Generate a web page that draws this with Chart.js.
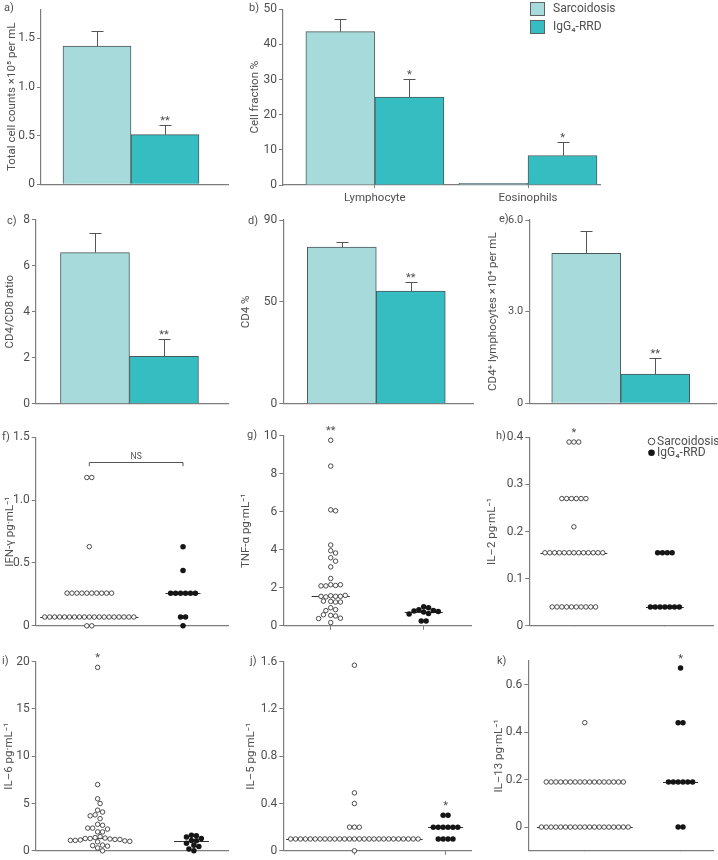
<!DOCTYPE html>
<html>
<head>
<meta charset="utf-8">
<title>BAL cells and cytokines</title>
<script src="https://cdn.jsdelivr.net/npm/chart.js@4.4.1/dist/chart.umd.min.js"></script>
<style>
  body { margin: 0; background: #fff; }
  #fig { position: relative; width: 718px; height: 860px; overflow: hidden; }
  #fig canvas { position: absolute; }
</style>
</head>
<body>
<div id="fig"></div>
<script>
// groups / categories
var groups = ['Sarcoidosis', 'IgG\u2084-RRD'];
var cellTypes = ['Lymphocyte', 'Eosinophils'];

// a) total cell counts (mean, SEM)
var totalSarc = [1.42];
var totalSarcSem = [0.16];
var totalIgg = [0.51];
var totalIggSem = [0.10];
var totalSig = ['**'];
var totalTicks = [0, 0.5, 1.0, 1.5];
var totalTickLabels = ['0', '0.5', '1.0', '1.5'];

// b) cell fraction %
var fracSarc = [43.6, 0.5];
var fracSarcSem = [3.7, 0];
var fracIgg = [25.0, 8.4];
var fracIggSem = [5.2, 3.9];
var fracSig = ['*', '*'];
var fracTicks = [0, 10, 20, 30, 40, 50];
var fracTickLabels = ['0', '10', '20', '30', '40', '50'];

// c) CD4/CD8 ratio
var ratioSarc = [6.57];
var ratioSarcSem = [0.84];
var ratioIgg = [2.06];
var ratioIggSem = [0.74];
var ratioSig = ['**'];
var ratioTicks = [0, 2, 4, 6, 8];
var ratioTickLabels = ['0', '2', '4', '6', '8'];

// d) CD4 %
var cd4Sarc = [76.7];
var cd4SarcSem = [2.7];
var cd4Igg = [55.2];
var cd4IggSem = [4.5];
var cd4Sig = ['**'];
var cd4Ticks = [0, 50, 90];
var cd4TickLabels = ['0', '50', '90'];

// e) CD4+ lymphocytes x10^4 per mL
var cd4CountSarc = [4.91];
var cd4CountSarcSem = [0.73];
var cd4CountIgg = [0.96];
var cd4CountIggSem = [0.53];
var cd4CountSig = ['**'];
var cd4CountTicks = [0, 3, 6];
var cd4CountTickLabels = ['0', '3.0', '6.0'];

// f) IFN-gamma
var ifnSarc = [1.18, 1.18, 0.63,
  0.26, 0.26, 0.26, 0.26, 0.26, 0.26, 0.26, 0.26, 0.26, 0.26,
  0.07, 0.07, 0.07, 0.07, 0.07, 0.07, 0.07, 0.07, 0.07, 0.07,
  0.07, 0.07, 0.07, 0.07, 0.07, 0.07, 0.07, 0.07, 0.07,
  0, 0];
var ifnIgg = [0.63, 0.44, 0.26, 0.26, 0.26, 0.26, 0.26, 0.26, 0.07, 0.07, 0];
var ifnSig = ['', ''];
var ifnTicks = [0, 0.5, 1.0, 1.5];
var ifnTickLabels = ['0', '0.5', '1.0', '1.5'];

// g) TNF-alpha
var tnfSarc = [9.76, 8.4, 6.1, 6.05, 4.25, 3.95, 3.83, 3.58, 3.4, 3.1, 2.49,
  2.16, 2.12, 2.1, 2.1, 2.16, 1.58, 1.55, 1.55, 1.52, 1.55, 1.6,
  1.28, 1.25, 1.3, 1.25, 0.95, 0.85, 0.8, 0.55, 0.52, 0.58, 0.4, 0.38, 0.17];
var tnfIgg = [1.0, 0.95, 0.85, 0.8, 0.78, 0.75, 0.72, 0.65, 0.62, 0.25, 0.25];
var tnfSig = ['**', ''];
var tnfTicks = [0, 2, 4, 6, 8, 10];
var tnfTickLabels = ['0', '2', '4', '6', '8', '10'];

// h) IL-2
var il2Sarc = [0.39, 0.39, 0.39,
  0.27, 0.27, 0.27, 0.27, 0.27, 0.27,
  0.21,
  0.155, 0.155, 0.155, 0.155, 0.155, 0.155, 0.155, 0.155, 0.155, 0.155, 0.155, 0.155, 0.155,
  0.04, 0.04, 0.04, 0.04, 0.04, 0.04, 0.04, 0.04, 0.04, 0.04];
var il2Igg = [0.155, 0.155, 0.155, 0.155, 0.04, 0.04, 0.04, 0.04, 0.04, 0.04, 0.04];
var il2Sig = ['*', ''];
var il2Ticks = [0, 0.1, 0.2, 0.3, 0.4];
var il2TickLabels = ['0', '0.1', '0.2', '0.3', '0.4'];

// i) IL-6
var il6Sarc = [19.4, 7.0, 5.5, 5.0, 4.3, 4.1, 3.8, 3.7, 3.4, 2.8,
  2.7, 2.4, 2.4, 2.3, 2.0, 2.0, 1.5, 1.4, 1.35, 1.3,
  1.3, 1.25, 1.2, 1.2, 1.15, 1.1, 1.1, 1.05, 1.0, 0.95,
  0.6, 0.55, 0.5, 0.3, 0.0];
var il6Igg = [1.65, 1.6, 1.45, 1.3, 1.1, 1.05, 0.8, 0.6, 0.45, 0.2, 0.0];
var il6Sig = ['*', ''];
var il6Ticks = [0, 5, 10, 15, 20];
var il6TickLabels = ['0', '5', '10', '15', '20'];

// j) IL-5
var il5Sarc = [1.57, 0.49, 0.4, 0.2, 0.2, 0.2,
  0.1, 0.1, 0.1, 0.1, 0.1, 0.1, 0.1, 0.1, 0.1, 0.1,
  0.1, 0.1, 0.1, 0.1, 0.1, 0.1, 0.1, 0.1, 0.1, 0.1,
  0.1, 0.1, 0.1, 0.1, 0.1, 0.1, 0.1,
  0];
var il5Igg = [0.3, 0.3, 0.2, 0.2, 0.2, 0.2, 0.2, 0.2, 0.1, 0.1, 0.1, 0.1];
var il5Sig = ['', '*'];
var il5Ticks = [0, 0.4, 0.8, 1.2, 1.6];
var il5TickLabels = ['0', '0.4', '0.8', '1.2', '1.6'];

// k) IL-13
var il13Sarc = [0.44,
  0.19, 0.19, 0.19, 0.19, 0.19, 0.19, 0.19, 0.19, 0.19, 0.19,
  0.19, 0.19, 0.19, 0.19, 0.19, 0.19, 0.19,
  0, 0, 0, 0, 0, 0, 0, 0, 0, 0,
  0, 0, 0, 0, 0, 0, 0, 0, 0];
var il13Igg = [0.67, 0.44, 0.44, 0.19, 0.19, 0.19, 0.19, 0.19, 0.19, 0, 0];
var il13Sig = ['', '*'];
var il13Ticks = [0, 0.2, 0.4, 0.6];
var il13TickLabels = ['0', '0.2', '0.4', '0.6'];

// style
var fam = 'Roboto, "Open Sans", "DejaVu Sans", sans-serif';
var textColor = '#4f4f4f';
var axisColor = '#7d7d7d';
var fills = ['#a7dadb', '#35bdc2'];
var barEdge = '#4c5959';
Chart.defaults.font.family = fam;
Chart.defaults.color = textColor;

// layout (absolute page pixels)
var panels = [
  { kind: 'bar', letter: 'a)', letterAt: [4, 8], box: [0, 0, 240, 205], area: [41, 3.6, 228, 184.3],
    xr: [0.5, 1.539], yr: [0, 1.8], cats: [''], series: [totalSarc, totalIgg], errs: [totalSarcSem, totalIggSem],
    sig: totalSig, barW: 68, yTicks: totalTicks, yLabels: totalTickLabels,
    title: 'Total cell counts \u00d710\u2075 per mL', titleX: 12 },
  { kind: 'bar', letter: 'b)', letterAt: [249, 8], box: [244, 0, 372, 205], area: [283, 6, 600, 185],
    xr: [0.4, 2.47], yr: [0, 50], cats: cellTypes, series: [fracSarc, fracIgg], errs: [fracSarcSem, fracIggSem],
    sig: fracSig, barW: 69, yTicks: fracTicks, yLabels: fracTickLabels, xTickLen: 3,
    title: 'Cell fraction %', titleX: 255, boxLegend: { x: 530, y: 2, w: 15, h: 14, dy: 18 } },
  { kind: 'bar', letter: 'c)', letterAt: [7, 221], box: [0, 205, 240, 215], area: [36, 219.7, 228, 403.7],
    xr: [0.5, 1.527], yr: [0, 8], cats: [''], series: [ratioSarc, ratioIgg], errs: [ratioSarcSem, ratioIggSem],
    sig: ratioSig, barW: 69, yTicks: ratioTicks, yLabels: ratioTickLabels,
    title: 'CD4/CD8 ratio', titleX: 10 },
  { kind: 'bar', letter: 'd)', letterAt: [248, 221], box: [236, 205, 240, 215], area: [283.3, 220, 473, 403.7],
    xr: [0.5, 1.52], yr: [0, 90], cats: [''], series: [cd4Sarc, cd4Igg], errs: [cd4SarcSem, cd4IggSem],
    sig: cd4Sig, barW: 69, yTicks: cd4Ticks, yLabels: cd4TickLabels,
    title: 'CD4 %', titleX: 246 },
  { kind: 'bar', letter: 'e)', letterAt: [499, 219], box: [478, 205, 240, 215], area: [529.3, 220, 716, 403.3],
    xr: [0.5, 1.521], yr: [0, 6], cats: [''], series: [cd4CountSarc, cd4CountIgg], errs: [cd4CountSarcSem, cd4CountIggSem],
    sig: cd4CountSig, barW: 69, yTicks: cd4CountTicks, yLabels: cd4CountTickLabels,
    title: 'CD4\u207a lymphocytes \u00d710\u2074 per mL', titleX: 493, tickFont: 11 },
  { kind: 'dots', letter: 'f)', letterAt: [2, 437], box: [0, 420, 240, 215], area: [35.7, 437.3, 228, 628.3],
    xr: [0.428, 2.48], yr: [0, 1.5], series: [ifnSarc, ifnIgg], sig: ifnSig, yTicks: ifnTicks, yLabels: ifnTickLabels,
    title: 'IFN-\u03b3 pg\u00b7mL\u207b\u00b9', titleX: 10, bracket: { y: 1.30, drop: 0.03, text: 'NS' } },
  { kind: 'dots', letter: 'g)', letterAt: [247, 435], box: [236, 420, 240, 215], area: [283.3, 435.7, 475, 629],
    xr: [0.49, 2.51], yr: [0, 10], series: [tnfSarc, tnfIgg], sig: tnfSig, yTicks: tnfTicks, yLabels: tnfTickLabels,
    xTickLen: 4, title: 'TNF-\u03b1 pg\u00b7mL\u207b\u00b9', titleX: 246 },
  { kind: 'dots', letter: 'h)', letterAt: [496, 436], box: [478, 420, 240, 215], area: [529.3, 437.3, 718, 627.3],
    xr: [0.51, 2.53], yr: [0, 0.4], series: [il2Sarc, il2Igg], sig: il2Sig, yTicks: il2Ticks, yLabels: il2TickLabels,
    title: 'IL\u20132 pg\u00b7mL\u207b\u00b9', titleX: 492, dotLegend: { x: 651.5, y: 441.5, dy: 11.2 } },
  { kind: 'dots', letter: 'i)', letterAt: [2, 661], box: [0, 640, 240, 220], area: [35.7, 661.7, 228, 851.7],
    xr: [0.34, 2.39], yr: [0, 20], series: [il6Sarc, il6Igg], sig: il6Sig, yTicks: il6Ticks, yLabels: il6TickLabels,
    title: 'IL\u20136 pg\u00b7mL\u207b\u00b9', titleX: 9 },
  { kind: 'dots', letter: 'j)', letterAt: [250, 661], box: [236, 640, 240, 220], area: [283.3, 661.7, 473, 851.7],
    xr: [0.22, 2.28], yr: [0, 1.6], series: [il5Sarc, il5Igg], sig: il5Sig, yTicks: il5Ticks, yLabels: il5TickLabels,
    xTickLen: 4, title: 'IL\u20135 pg\u00b7mL\u207b\u00b9', titleX: 251 },
  { kind: 'dots', letter: 'k)', letterAt: [497, 661], box: [478, 640, 240, 220], area: [528.3, 661, 718, 852.3],
    xr: [0.41, 2.34], yr: [-0.1, 0.7], series: [il13Sarc, il13Igg], sig: il13Sig, yTicks: il13Ticks, yLabels: il13TickLabels,
    title: 'IL\u201313 pg\u00b7mL\u207b\u00b9', titleX: 499 }
];

function median(a) {
  var s = a.slice().sort(function (x, y) { return x - y; });
  var n = s.length;
  return n % 2 ? s[(n - 1) / 2] : (s[n / 2 - 1] + s[n / 2]) / 2;
}

// simple beeswarm: identical values form a centred row, rows shift sideways to avoid overlaps
function swarm(values, center, pxX, pxY) {
  var d = 4.95, placed = [], out = [], i = 0;
  while (i < values.length) {
    var v = values[i], n = 1;
    while (i + n < values.length && values[i + n] === v) n++;
    var py = v * pxY, row = [];
    for (var k = 0; k < 400; k++) {
      var shift = (k % 2 ? 1 : -1) * Math.ceil(k / 2) * d / 2;
      row = [];
      for (var j = 0; j < n; j++) row.push(shift + (j - (n - 1) / 2) * d);
      var ok = row.every(function (px) {
        return placed.every(function (q) { return Math.hypot(q[0] - px, q[1] - py) >= d - 0.05; });
      });
      if (ok) break;
    }
    row.forEach(function (px) {
      placed.push([px, py]);
      out.push({ x: center + px / pxX, y: v });
    });
    i += n;
  }
  return out;
}

function extras(p) {
  var cl = p.box[0], ct = p.box[1];
  return {
    id: 'extras',
    beforeDatasetsDraw: function (chart) {
      if (p.kind !== 'dots') return;
      var ctx = chart.ctx, xs = chart.scales.x, ys = chart.scales.y;
      ctx.save();
      ctx.strokeStyle = '#333';
      ctx.lineWidth = 1;
      p.series.forEach(function (vals, g) {
        var cx = xs.getPixelForValue(g + 1), cy = ys.getPixelForValue(median(vals)), half = 17.5;
        chart.getDatasetMeta(g).data.forEach(function (pt) {
          if (Math.abs(pt.y - cy) < 1.5) half = Math.max(half, Math.abs(pt.x - cx) + 4.5);
        });
        ctx.beginPath();
        ctx.moveTo(cx - half, Math.round(cy) + 0.5);
        ctx.lineTo(cx + half, Math.round(cy) + 0.5);
        ctx.stroke();
      });
      ctx.restore();
    },
    afterDraw: function (chart) {
      var ctx = chart.ctx, xs = chart.scales.x, ys = chart.scales.y;
      ctx.save();
      ctx.fillStyle = textColor;
      ctx.font = '11px ' + fam;
      ctx.textBaseline = 'middle';
      ctx.textAlign = 'left';
      ctx.fillText(p.letter, p.letterAt[0] - cl, p.letterAt[1] - ct);

      if (p.kind === 'bar') {
        ctx.strokeStyle = '#555';
        ctx.lineWidth = 1;
        p.series.forEach(function (vals, g) {
          var meta = chart.getDatasetMeta(g);
          vals.forEach(function (v, i) {
            var err = p.errs[g][i];
            if (!err) return;
            var x = Math.round(meta.data[i].x) + 0.5;
            var y0 = ys.getPixelForValue(v), y1 = Math.round(ys.getPixelForValue(v + err)) + 0.5;
            ctx.beginPath();
            ctx.moveTo(x, y0); ctx.lineTo(x, y1);
            ctx.moveTo(x - 6, y1); ctx.lineTo(x + 6, y1);
            ctx.stroke();
          });
        });
        ctx.textAlign = 'center';
        ctx.textBaseline = 'alphabetic';
        p.sig.forEach(function (s, i) {
          if (!s) return;
          var el = chart.getDatasetMeta(1).data[i];
          var y = ys.getPixelForValue(p.series[1][i] + p.errs[1][i]);
          ctx.fillText(s, el.x, y - 1);
        });
      } else {
        ctx.textAlign = 'center';
        ctx.textBaseline = 'alphabetic';
        p.sig.forEach(function (s, g) {
          if (!s) return;
          var top = Math.max.apply(null, p.series[g]);
          ctx.fillText(s, xs.getPixelForValue(g + 1), ys.getPixelForValue(top) - 6);
        });
      }

      if (p.bracket) {
        var b = p.bracket;
        var x1 = xs.getPixelForValue(1), x2 = xs.getPixelForValue(2);
        var by = Math.round(ys.getPixelForValue(b.y)) + 0.5, bd = ys.getPixelForValue(b.y - b.drop);
        ctx.strokeStyle = '#555';
        ctx.lineWidth = 1;
        ctx.beginPath();
        ctx.moveTo(x1, bd); ctx.lineTo(x1, by); ctx.lineTo(x2, by); ctx.lineTo(x2, bd);
        ctx.stroke();
        ctx.font = '8.5px ' + fam;
        ctx.fillText(b.text, (x1 + x2) / 2, by - 4);
      }

      if (p.boxLegend) {
        var L = p.boxLegend;
        ctx.font = '12px ' + fam;
        ctx.textAlign = 'left';
        ctx.textBaseline = 'middle';
        groups.forEach(function (name, g) {
          var x = L.x - cl, y = L.y - ct + g * L.dy;
          ctx.fillStyle = fills[g];
          ctx.fillRect(x, y, L.w, L.h);
          ctx.strokeStyle = '#5a6464';
          ctx.strokeRect(x + 0.5, y + 0.5, L.w - 1, L.h - 1);
          ctx.fillStyle = textColor;
          ctx.fillText(name, x + L.w + 8, y + L.h / 2);
        });
      }

      if (p.dotLegend) {
        var D = p.dotLegend;
        ctx.font = '12px ' + fam;
        ctx.textAlign = 'left';
        ctx.textBaseline = 'middle';
        groups.forEach(function (name, g) {
          var x = D.x - cl, y = D.y - ct + g * D.dy;
          ctx.beginPath();
          ctx.arc(x, y, 3.3, 0, Math.PI * 2);
          if (g) {
            ctx.fillStyle = '#151515';
            ctx.fill();
          } else {
            ctx.strokeStyle = '#333';
            ctx.lineWidth = 0.9;
            ctx.stroke();
          }
          ctx.fillStyle = textColor;
          ctx.fillText(name, x + 5.5, y + 0.5);
        });
      }
      ctx.restore();
    }
  };
}

function scaleOpts(p) {
  var cl = p.box[0], ct = p.box[1], ch = p.box[3];
  var xTicks = p.kind === 'bar' ? p.cats.map(function (c, i) { return i + 1; }) : [1, 2];
  var xLabels = p.kind === 'bar' ? p.cats : ['', ''];
  return {
    x: {
      type: 'linear', min: p.xr[0], max: p.xr[1], offset: false,
      afterFit: function (s) { s.height = ct + ch - p.area[3]; },
      afterBuildTicks: function (s) { s.ticks = xTicks.map(function (v) { return { value: v }; }); },
      grid: { display: true, drawOnChartArea: false, offset: false, tickLength: p.xTickLen || 0, color: axisColor },
      border: { color: axisColor, width: 1.2 },
      ticks: {
        autoSkip: false, maxRotation: 0, padding: 3, color: textColor, font: { size: 11.5 },
        callback: function (v, i) { return xLabels[i] || ''; }
      }
    },
    y: {
      min: p.yr[0], max: p.yr[1],
      afterFit: function (s) { s.width = p.area[0] - cl; },
      afterBuildTicks: function (s) { s.ticks = p.yTicks.map(function (v) { return { value: v }; }); },
      grid: { drawOnChartArea: false, tickLength: 4, color: axisColor },
      border: { color: axisColor, width: 1.2 },
      ticks: {
        autoSkip: false, padding: 2, color: textColor, font: { size: p.tickFont || 12 },
        callback: function (v, i) { return p.yLabels[i]; }
      },
      title: {
        display: true, text: p.title, color: textColor,
        font: { size: 11.5, lineHeight: 1.2 },
        padding: { top: p.titleX - cl - 6.9, bottom: 0 }
      }
    }
  };
}

function buildConfig(p) {
  var cl = p.box[0], ct = p.box[1], cw = p.box[2];
  var datasets;
  if (p.kind === 'bar') {
    datasets = p.series.map(function (vals, g) {
      return {
        label: groups[g], data: vals, backgroundColor: fills[g],
        borderColor: barEdge, borderWidth: 1, barThickness: p.barW
      };
    });
  } else {
    var pxX = (p.area[2] - p.area[0]) / (p.xr[1] - p.xr[0]);
    var pxY = (p.area[3] - p.area[1]) / (p.yr[1] - p.yr[0]);
    datasets = p.series.map(function (vals, g) {
      return {
        label: groups[g], data: swarm(vals, g + 1, pxX, pxY), clip: false,
        pointStyle: 'circle',
        pointRadius: g ? 2.75 : 2.25,
        pointBackgroundColor: g ? '#151515' : '#fff',
        pointBorderColor: g ? '#151515' : '#3a3a3a',
        pointBorderWidth: g ? 0 : 0.9
      };
    });
  }
  return {
    type: p.kind === 'bar' ? 'bar' : 'scatter',
    data: {
      labels: p.kind === 'bar' ? p.cats.map(function (c, i) { return i + 1; }) : undefined,
      datasets: datasets
    },
    options: {
      responsive: false, animation: false, devicePixelRatio: 1, events: [],
      layout: { padding: { left: 0, bottom: 0, top: p.area[1] - ct, right: cl + cw - p.area[2] } },
      plugins: { legend: { display: false }, tooltip: { enabled: false } },
      scales: scaleOpts(p)
    },
    plugins: [extras(p)]
  };
}

var fig = document.getElementById('fig');
panels.forEach(function (p, n) {
  var c = document.createElement('canvas');
  c.id = 'panel' + n;
  c.width = p.box[2];
  c.height = p.box[3];
  c.style.left = p.box[0] + 'px';
  c.style.top = p.box[1] + 'px';
  c.style.width = p.box[2] + 'px';
  c.style.height = p.box[3] + 'px';
  fig.appendChild(c);
  new Chart(c, buildConfig(p));
});
</script>
</body>
</html>
